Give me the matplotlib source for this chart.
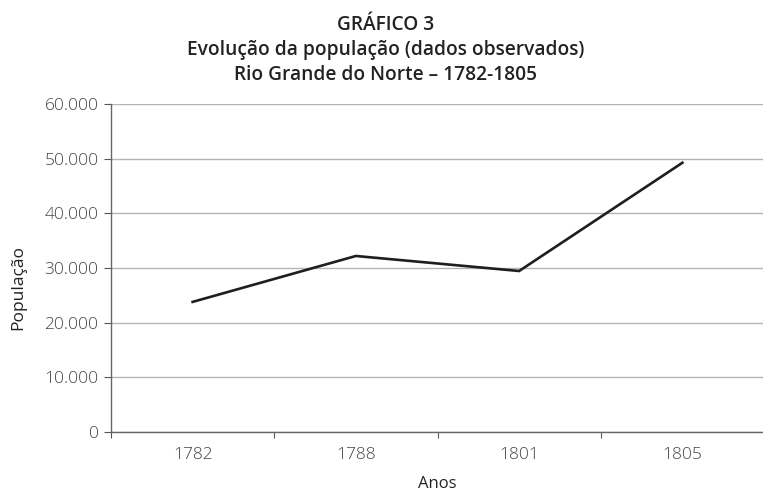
import matplotlib.pyplot as plt
from matplotlib.ticker import FuncFormatter

anos = ['1782', '1788', '1801', '1805']
populacao = [23800, 32200, 29450, 49250]
y_ticks = [0, 10000, 20000, 30000, 40000, 50000, 60000]

titulo = 'GRÁFICO 3\nEvolução da população (dados observados)\nRio Grande do Norte – 1782-1805'

plt.rcParams['font.family'] = ['Open Sans', 'DejaVu Sans']

fig = plt.figure(figsize=(7.63, 4.96), dpi=100)
ax = fig.add_axes([111/763, 64/496, 653/763, 328/496])

xs = [i + 0.5 for i in range(len(anos))]
ax.plot(xs, populacao, color='#1e1e1e', lw=1.9, solid_joinstyle='miter')

ax.set_xlim(0, len(anos))
ax.set_ylim(0, 60000)
ax.set_yticks(y_ticks)
ax.yaxis.set_major_formatter(FuncFormatter(lambda v, p: f'{int(v):,}'.replace(',', '.')))
ax.grid(axis='y', color='#b4b4b4', lw=1.0)
ax.set_axisbelow(True)

# category ticks between labels, labels in the middle
ax.set_xticks(range(len(anos) + 1))
ax.set_xticklabels([])
ax.set_xticks(xs, minor=True)
ax.set_xticklabels(anos, minor=True)
ax.tick_params(axis='x', which='minor', length=0, pad=11)
ax.tick_params(axis='x', which='major', length=4, color='#555555', direction='out')
ax.tick_params(axis='y', length=5, color='#555555', pad=4)
for lab in ax.get_yticklabels() + ax.get_xticklabels(minor=True):
    lab.set_fontsize(12.5)
    lab.set_color('#444444')
    lab.set_fontweight('light')

for s in ['top', 'right']:
    ax.spines[s].set_visible(False)
for s in ['left', 'bottom']:
    ax.spines[s].set_color('#666666')
    ax.spines[s].set_linewidth(1.0)

ax.set_xlabel('Anos', fontsize=12, color='#222222', labelpad=9)
ax.set_ylabel('População', fontsize=12.5, color='#222222')
ax.yaxis.set_label_coords(-(111 - 26) / 653, (432 - 287) / 328)

fig.text(386/763, 1 - 15/496, titulo, ha='center', va='top', fontsize=13.8,
         fontweight='semibold', color='#222222', linespacing=1.34)

fig.savefig('out.png', dpi=100)
